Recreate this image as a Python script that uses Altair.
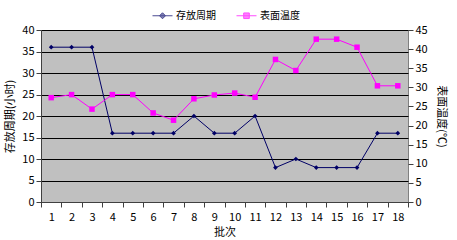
import altair as alt
import pandas as pd

batches = list(range(1, 19))
storage = [36, 36, 36, 16, 16, 16, 16, 20, 16, 16, 20, 8, 10, 8, 8, 8, 16, 16]
temp = [27.3, 28.1, 24.3, 28.1, 28.1, 23.3, 21.4, 27.0, 28.0, 28.5, 27.4,
        37.3, 34.4, 42.6, 42.6, 40.5, 30.4, 30.4]
series_names = ["存放周期", "表面温度"]
colors = ["#000066", "#FF00FF"]

df = pd.DataFrame({
    "batch": batches * 2,
    "series": [series_names[0]] * 18 + [series_names[1]] * 18,
    "value": storage + temp,
})

FONT = "Noto Sans CJK SC"

# legend symbols: a short line with the series marker on it
DIAMOND_LINE = "M-1,0L1,0M0,-0.3L0.3,0L0,0.3L-0.3,0Z"
SQUARE_LINE = "M-1,0L1,0M-0.28,-0.28L0.28,-0.28L0.28,0.28L-0.28,0.28Z"

leg = alt.Legend(
    orient="none", legendX=111, legendY=-25, direction="horizontal",
    title=None, labelFont=FONT, labelFontSize=10, labelColor="#000000",
    symbolSize=400, symbolStrokeWidth=1, columnPadding=18, labelOffset=3,
)

stroke = alt.Stroke("series:N", scale=alt.Scale(domain=series_names, range=colors), legend=leg)
fill = alt.Fill("series:N", scale=alt.Scale(domain=series_names, range=colors), legend=leg)
shape = alt.Shape("series:N", scale=alt.Scale(domain=series_names, range=[DIAMOND_LINE, SQUARE_LINE]), legend=leg)

x = alt.X("batch:O", title="批次", scale=alt.Scale(paddingInner=0, paddingOuter=0),
          axis=alt.Axis(labelAngle=0, tickBand="extent", labelFont=FONT, labelFontSize=11,
                        titleFont=FONT, titleFontSize=11, titleFontWeight="normal",
                        domainColor="#404040", tickColor="#404040", labelColor="#000000",
                        titlePadding=4, labelPadding=4))

yl = alt.Y("value:Q", title="存放周期(小时)",
           scale=alt.Scale(domain=[0, 40], nice=False),
           axis=alt.Axis(values=list(range(0, 41, 5)), gridColor="#000000", gridWidth=1,
                         labelFont=FONT, labelFontSize=11, titleFont=FONT, titleFontSize=11,
                         titleFontWeight="normal", domainColor="#404040", tickColor="#404040",
                         labelColor="#000000", titlePadding=6))
yr = alt.Y("value:Q", title="表面温度(℃)",
           scale=alt.Scale(domain=[0, 45], nice=False),
           axis=alt.Axis(orient="right", values=list(range(0, 46, 5)), grid=False,
                         labelFont=FONT, labelFontSize=11, titleFont=FONT, titleFontSize=11,
                         titleFontWeight="normal", domain=False, tickColor="#404040",
                         labelColor="#000000", titlePadding=8))

baseL = alt.Chart(df).transform_filter(alt.datum.series == series_names[0])
baseR = alt.Chart(df).transform_filter(alt.datum.series == series_names[1])

leftL = baseL.mark_line(strokeWidth=1).encode(x=x, y=yl, stroke=stroke)
leftP = baseL.mark_point(filled=True, shape="diamond", size=22, opacity=1).encode(x=x, y=yl, fill=fill)
# empty layer that only carries the legend's symbol shapes
legendOnly = alt.Chart(df).transform_filter(alt.datum.value < -1000).mark_point(
    filled=True, size=400).encode(x=x, y=yl, shape=shape, fill=fill, stroke=stroke)
rightL = baseR.mark_line(strokeWidth=1).encode(x=x, y=yr, stroke=stroke)
rightP = baseR.mark_point(filled=True, shape="square", size=30, opacity=1).encode(x=x, y=yr, fill=fill)

chart = alt.layer(alt.layer(leftL, leftP, legendOnly), alt.layer(rightL, rightP)).resolve_scale(
    y="independent"
).properties(
    width=367, height=172,
    autosize=alt.AutoSizeParams(type="none"),
    padding={"left": 41, "top": 30, "right": 49, "bottom": 38},
    background="white",
).configure_view(fill="#C0C0C0", stroke="#808080")

chart.save("out.html", embed_options={"renderer": "svg", "actions": False})
